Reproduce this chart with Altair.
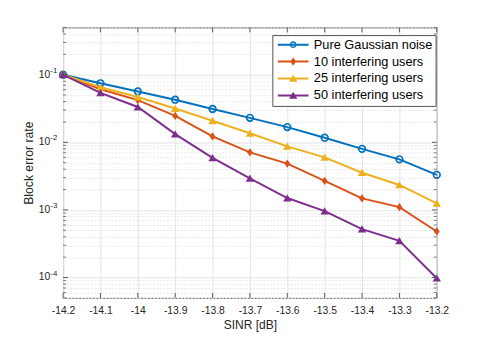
import altair as alt
import pandas as pd

# ---- data ----
sinr = [-14.2, -14.1, -14.0, -13.9, -13.8, -13.7, -13.6, -13.5, -13.4, -13.3, -13.2]
series_names = ["Pure Gaussian noise", "10 interfering users",
                "25 interfering users", "50 interfering users"]
pure = [0.1, 0.0746, 0.0565, 0.0427, 0.0311, 0.0230, 0.0168, 0.0117, 0.0080, 0.0056, 0.0033]
users10 = [0.1, 0.061, 0.042, 0.0246, 0.0122, 0.0071, 0.00485, 0.00268, 0.00148, 0.0011, 0.00048]
users25 = [0.1, 0.0653, 0.0467, 0.0316, 0.0208, 0.0136, 0.0087, 0.0060, 0.00355, 0.00234, 0.00125]
users50 = [0.1, 0.054, 0.0333, 0.0132, 0.0059, 0.00293, 0.0015, 0.00096, 0.00052, 0.00035, 0.0000977]
colors = ["#0072BD", "#D95319", "#EDB120", "#7E2F8E"]

y_major = [1e-4, 1e-3, 1e-2, 1e-1]
y_major_exp = ["-4", "-3", "-2", "-1"]
y_minor = [float(f"{k}e{d}") for d in range(-5, 0) for k in range(2, 10)
           if 5e-5 <= float(f"{k}e{d}") <= 0.5]

rows = []
for name, vals in zip(series_names, [pure, users10, users25, users50]):
    for xv, yv in zip(sinr, vals):
        rows.append({"sinr": xv, "bler": yv, "series": name})
df = pd.DataFrame(rows)

W, H = 380, 275
FONT = "Liberation Sans"
FRAME = "#5a5a5a"
TXT = "#262626"

xs = alt.Scale(domain=[-14.2, -13.2], nice=False, zero=False)
ys = alt.Scale(type="log", domain=[5e-5, 0.5], nice=False)
cs = alt.Scale(domain=series_names, range=colors)

# marker paths (unit box -1..1)
tri = "M0,-0.95L1.05,0.85L-1.05,0.85Z"
dia = "M0,-1.05L0.75,0L0,1.05L-0.75,0Z"
bar = "M-3.9,-0.25H3.9V0.25H-3.9Z"
ring = ("M-0.85,0A0.85,0.85 0 1,1 0.85,0A0.85,0.85 0 1,1 -0.85,0Z"
        "M-0.5,0A0.5,0.5 0 1,0 0.5,0A0.5,0.5 0 1,0 -0.5,0Z")
legend_paths = [bar + ring, bar + dia, bar + tri, bar + tri]

major_test = "indexof([0.0001,0.001,0.01,0.1], datum.value) >= 0"

x_axis = alt.Axis(values=sinr, labelExpr="toString(datum.value)", title="SINR [dB]",
                  grid=True, gridColor="#e3e3e3", gridWidth=1, ticks=False, domain=False,
                  labelFont=FONT, labelFontSize=10.5, labelColor=TXT, labelPadding=8,
                  titleFont=FONT, titleFontSize=12.2, titleColor=TXT, titleFontWeight="normal",
                  titlePadding=3, labelFlush=False)
y_axis = alt.Axis(values=y_major + y_minor, labels=False, ticks=False, domain=False,
                  grid=True,
                  gridColor={"condition": {"test": major_test, "value": "#e3e3e3"}, "value": "#e8e8e8"},
                  gridDash={"condition": {"test": major_test, "value": []}, "value": [2, 1.5]},
                  title="Block error rate", titleFont=FONT, titleFontSize=12.4,
                  titleColor=TXT, titleFontWeight="normal", titlePadding=28)


def X(field="sinr:Q"):
    return alt.X(field, scale=xs, axis=x_axis)


def Y(field="bler:Q"):
    return alt.Y(field, scale=ys, axis=y_axis)


layers = []
for i, name in enumerate(series_names):
    base = alt.Chart(df).transform_filter(alt.datum.series == name)
    col = colors[i]
    line = base.mark_line(strokeWidth=2, color=col).encode(x=X(), y=Y())
    if i == 0:
        pts = base.mark_point(shape="circle", filled=False, size=46, strokeWidth=1.7,
                              color=col, opacity=1).encode(x=X(), y=Y())
    elif i == 1:
        pts = base.mark_point(shape=dia, filled=True, size=64, color=col, opacity=1).encode(x=X(), y=Y())
    else:
        pts = base.mark_point(shape=tri, filled=True, size=66, color=col, opacity=1).encode(x=X(), y=Y())
    layers += [line, pts]

# inward ticks
xt = pd.DataFrame({"sinr": sinr})
tick_b = alt.Chart(xt).mark_rule(color=FRAME, strokeWidth=1).encode(x=X(), y=alt.value(H), y2=alt.value(H - 5))
tick_t = alt.Chart(xt).mark_rule(color=FRAME, strokeWidth=1).encode(x=X(), y=alt.value(0), y2=alt.value(5))
ymj = pd.DataFrame({"bler": y_major, "base": ["10"] * 4, "exp": y_major_exp})
ymn = pd.DataFrame({"bler": y_minor})
tick_l = alt.Chart(ymj).mark_rule(color=FRAME, strokeWidth=1).encode(y=Y(), x=alt.value(0), x2=alt.value(5))
tick_r = alt.Chart(ymj).mark_rule(color=FRAME, strokeWidth=1).encode(y=Y(), x=alt.value(W), x2=alt.value(W - 5))
tick_lm = alt.Chart(ymn).mark_rule(color=FRAME, strokeWidth=0.8).encode(y=Y(), x=alt.value(0), x2=alt.value(3))
tick_rm = alt.Chart(ymn).mark_rule(color=FRAME, strokeWidth=0.8).encode(y=Y(), x=alt.value(W), x2=alt.value(W - 3))

lab_base = alt.Chart(ymj).mark_text(align="right", baseline="middle", font=FONT, fontSize=10.5,
                                    color=TXT).encode(y=Y(), x=alt.value(-13), text="base:N")
lab_exp = alt.Chart(ymj).mark_text(align="left", baseline="middle", font=FONT, fontSize=8,
                                   color=TXT, dy=-4).encode(y=Y(), x=alt.value(-13), text="exp:N")

legend_layer = alt.Chart(df).transform_filter("false").mark_point(filled=True, size=64, opacity=1).encode(
    color=alt.Color("series:N", scale=cs, title=None),
    shape=alt.Shape("series:N", scale=alt.Scale(domain=series_names, range=legend_paths), title=None),
)

chart = alt.layer(
    *layers, tick_b, tick_t, tick_l, tick_r, tick_lm, tick_rm, lab_base, lab_exp, legend_layer
).properties(
    width=W, height=H,
    autosize=alt.AutoSizeParams(type="none"),
    padding={"left": 56, "top": 17, "right": 47, "bottom": 37},
).configure_view(
    stroke=FRAME, strokeWidth=1
).configure_legend(
    orient="none", legendX=213, legendY=8,
    fillColor="white", strokeColor="#262626", strokeWidth=0.8, cornerRadius=0,
    padding=3, rowPadding=3.2, symbolSize=64, symbolOffset=11.5, labelOffset=14.5,
    symbolStrokeWidth=0, labelFont=FONT, labelFontSize=13, labelColor="#000000",
    labelLimit=400,
)

chart.save("out.html", embed_options={"renderer": "svg", "actions": False})
